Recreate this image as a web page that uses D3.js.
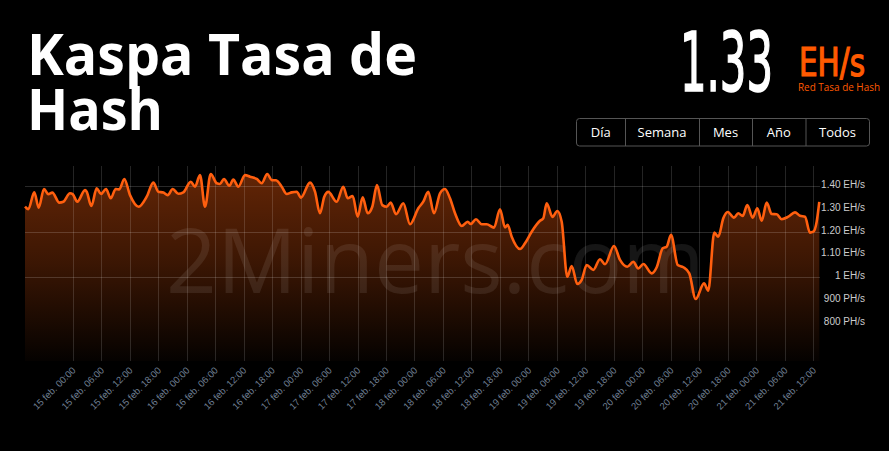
<!DOCTYPE html>
<html><head><meta charset="utf-8">
<script src="https://cdn.jsdelivr.net/npm/d3@7/dist/d3.min.js"></script>
<style>
html,body{margin:0;padding:0;background:#000;}
svg{display:block;}
</style></head>
<body>
<svg id="chart" width="889" height="451"></svg>
<script>
// ---- data (hours relative to 15 feb 00:00, hashrate in EH/s) ----
const hoursFrom15Feb = [-10.05,-9.35,-8.09,-7.16,-6.05,-5.14,-4.30,-2.82,-1.98,-0.57,0,0.97,2.59,2.95,3.92,5.06,5.96,7.02,8.01,9.06,9.82,10.87,12.07,13.90,15.59,16.98,18.03,19.09,20.01,21.07,22.25,23.30,24.86,25.76,26.82,27.87,29.07,30.34,31.03,31.87,32.99,33.83,34.89,36.30,37.35,38.76,39.82,40.99,41.92,42.83,44.03,45.08,46.14,47.19,48.09,49.99,51.04,52.09,53.00,53.84,55.61,57.00,57.93,58.98,60.04,61.09,62.14,63.11,64.10,65.22,66.15,66.99,68.11,69.65,71.06,72.81,73.86,74.91,76.11,77.38,78.43,79.48,80.54,81.95,83.21,83.84,84.96,86.16,87.21,88.75,90.02,91.07,91.64,92.48,94.23,95.28,96.69,98.44,99.14,99.85,101.08,102.09,103.01,104.19,105.12,106.30,107.23,108.28,109.67,111.08,112.14,114.03,115.30,116.83,118.10,119.15,120.21,121.97,123.03,124.29,125.13,126.04,127.45,128.63,129.89,131.24,132.99,133.89,135.16,136.00,137.06,137.98,139.31,140.21,141.14,142.11,143.25,144.22,145.14,146.20,147.25,148.30,149.36,150.75,152.16,153.22,154.27,155.32,156.02,156.73,157.28];
const hashrateEH = [1.309,1.298,1.372,1.305,1.387,1.364,1.371,1.327,1.331,1.368,1.364,1.331,1.382,1.375,1.312,1.390,1.365,1.387,1.346,1.387,1.385,1.431,1.360,1.309,1.353,1.415,1.375,1.371,1.360,1.387,1.366,1.372,1.419,1.397,1.448,1.309,1.453,1.412,1.409,1.431,1.401,1.428,1.397,1.448,1.441,1.431,1.412,1.453,1.426,1.425,1.397,1.365,1.372,1.375,1.349,1.415,1.375,1.280,1.353,1.374,1.331,1.397,1.346,1.356,1.265,1.350,1.280,1.309,1.404,1.316,1.309,1.327,1.276,1.324,1.232,1.302,1.331,1.375,1.280,1.368,1.387,1.346,1.280,1.224,1.243,1.233,1.254,1.232,1.232,1.217,1.298,1.218,1.229,1.177,1.123,1.148,1.199,1.247,1.258,1.324,1.264,1.290,1.243,1.001,1.048,0.969,0.987,1.053,1.031,1.078,1.056,1.136,1.075,1.045,1.067,1.038,1.057,1.016,1.043,1.126,1.133,1.185,1.053,1.043,1.016,0.903,0.972,0.940,1.195,1.177,1.258,1.286,1.261,1.280,1.268,1.316,1.261,1.302,1.247,1.327,1.277,1.276,1.254,1.265,1.284,1.269,1.265,1.195,1.199,1.243,1.330];

const tickHours = [0,6,12,18,24,30,36,42,48,54,60,66,72,78,84,90,96,102,108,114,120,126,132,138,144,150,156];
const tickLabels = ["15 feb. 00:00","15 feb. 06:00","15 feb. 12:00","15 feb. 18:00","16 feb. 00:00","16 feb. 06:00","16 feb. 12:00","16 feb. 18:00","17 feb. 00:00","17 feb. 06:00","17 feb. 12:00","17 feb. 18:00","18 feb. 00:00","18 feb. 06:00","18 feb. 12:00","18 feb. 18:00","19 feb. 00:00","19 feb. 06:00","19 feb. 12:00","19 feb. 18:00","20 feb. 00:00","20 feb. 06:00","20 feb. 12:00","20 feb. 18:00","21 feb. 00:00","21 feb. 06:00","21 feb. 12:00"];

const yTickValues = [0.8,0.9,1.0,1.1,1.2,1.3,1.4];
const yTickLabels = ["800 PH/s","900 PH/s","1 EH/s","1.10 EH/s","1.20 EH/s","1.30 EH/s","1.40 EH/s"];
const yGridValues = [1.0,1.2,1.4];

const titleLines = ["Kaspa Tasa de","Hash"];
const currentValue = "1.33";
const currentUnit = "EH/s";
const currentCaption = "Red Tasa de Hash";
const rangeButtons = ["Día","Semana","Mes","Año","Todos"];
const watermark = "2Miners.com";

// ---- layout ----
const HOUR = 3600*1000;
const base = Date.UTC(2025,1,15,0,0);
const toDate = h => new Date(base + h*HOUR);
const plot = {left:25, right:820, top:166, bottom:361};

const svg = d3.select("#chart");
svg.append("rect").attr("width",889).attr("height",451).attr("fill","#000");

const x = d3.scaleUtc().domain([toDate(-10.05), toDate(157.43)]).range([plot.left, plot.right]);
const y = d3.scaleLinear().domain([0.6308, 1.4879]).range([plot.bottom, plot.top]);

const data = hoursFrom15Feb.map((h,i)=>({t:toDate(h), v:hashrateEH[i]}));

// gradient
const defs = svg.append("defs");
const grad = defs.append("linearGradient").attr("id","fillGrad")
  .attr("gradientUnits","userSpaceOnUse").attr("x1",0).attr("x2",0)
  .attr("y1",plot.top).attr("y2",plot.bottom);
grad.append("stop").attr("offset","0%").attr("stop-color","#ff5f0f").attr("stop-opacity",0.40);
grad.append("stop").attr("offset","50%").attr("stop-color","#ff5f0f").attr("stop-opacity",0.23);
grad.append("stop").attr("offset","100%").attr("stop-color","#ff5f0f").attr("stop-opacity",0.02);

// area
const area = d3.area().x(d=>x(d.t)).y0(plot.bottom).y1(d=>y(d.v)).curve(d3.curveMonotoneX);
svg.append("path").datum(data).attr("d",area).attr("fill","url(#fillGrad)");

// watermark
svg.append("text").attr("x",166).attr("y",293).text(watermark)
  .attr("font-family","'Open Sans', sans-serif").attr("font-size",89)
  .attr("fill","#ffffff").attr("fill-opacity",0.085);

// vertical grid
svg.append("g").selectAll("line").data(tickHours).join("line")
  .attr("x1",d=>Math.round(x(toDate(d)))+0.5).attr("x2",d=>Math.round(x(toDate(d)))+0.5)
  .attr("y1",plot.top).attr("y2",plot.bottom)
  .attr("stroke","#ffffff").attr("stroke-opacity",0.14).attr("stroke-width",1);
// horizontal grid
svg.append("g").selectAll("line").data(yGridValues).join("line")
  .attr("x1",plot.left).attr("x2",plot.right)
  .attr("y1",d=>Math.round(y(d))+0.5).attr("y2",d=>Math.round(y(d))+0.5)
  .attr("stroke","#ffffff").attr("stroke-opacity",0.16).attr("stroke-width",1);

// line
const line = d3.line().x(d=>x(d.t)).y(d=>y(d.v)).curve(d3.curveMonotoneX);
svg.append("path").datum(data).attr("d",line).attr("fill","none")
  .attr("stroke","#ff5f0f").attr("stroke-width",2.6).attr("stroke-linejoin","round");

// x axis
const xAxis = d3.axisBottom(x).tickValues(tickHours.map(toDate))
  .tickFormat((d,i)=>tickLabels[i]).tickSize(0).tickPadding(0);
const gx = svg.append("g").attr("transform",`translate(0,${plot.bottom})`).call(xAxis);
gx.select(".domain").remove();
gx.selectAll("text")
  .attr("font-family","'Liberation Sans', Arial, sans-serif").attr("font-size",9.5)
  .attr("fill","#6f7f92").attr("text-anchor","end")
  .attr("dy",0).attr("y",0)
  .attr("transform","translate(3,10) rotate(-45)");

// y axis
const yAxis = d3.axisRight(y).tickValues(yTickValues)
  .tickFormat((d,i)=>yTickLabels[i]).tickSize(0).tickPadding(0);
const gy = svg.append("g").attr("transform",`translate(865,-1.5)`).call(yAxis);
gy.select(".domain").remove();
gy.selectAll("text").attr("text-anchor","end")
  .attr("font-family","'Liberation Sans', Arial, sans-serif").attr("font-size",10)
  .attr("fill","#cccccc");

// title
svg.append("g").selectAll("text").data(titleLines).join("text")
  .attr("x",27).attr("y",(d,i)=>75+i*55).text(d=>d)
  .attr("font-family","'Open Sans', sans-serif").attr("font-weight",700)
  .attr("font-size",58).attr("fill","#ffffff")
  .attr("textLength",(d,i)=>i===0?390:136).attr("lengthAdjust","spacingAndGlyphs");

// current value
svg.append("text").attr("x",680).attr("y",91).text(currentValue)
  .attr("font-family","'DejaVu Sans Condensed','DejaVu Sans', sans-serif")
  .attr("font-size",82).attr("fill","#ffffff")
  .attr("stroke","#ffffff").attr("stroke-width",1.6)
  .attr("textLength",93).attr("lengthAdjust","spacingAndGlyphs");
svg.append("text").attr("x",799).attr("y",76).text(currentUnit)
  .attr("font-family","'DejaVu Sans Condensed','DejaVu Sans', sans-serif")
  .attr("font-size",39).attr("fill","#ff5a00")
  .attr("stroke","#ff5a00").attr("stroke-width",1.2)
  .attr("textLength",66).attr("lengthAdjust","spacingAndGlyphs");
svg.append("text").attr("x",798).attr("y",91).text(currentCaption)
  .attr("font-family","'Open Sans', sans-serif").attr("font-size",10).attr("fill","#ff5a00")
  .attr("textLength",82).attr("lengthAdjust","spacingAndGlyphs");

// range buttons
const btnEdges = [576.5,625,699,752,805.5,869.5];
const gb = svg.append("g");
gb.append("rect").attr("x",576.5).attr("y",118.5).attr("width",293).attr("height",27.5)
  .attr("rx",3).attr("fill","none").attr("stroke","#555555");
gb.selectAll("line").data(btnEdges.slice(1,-1)).join("line")
  .attr("x1",d=>d+0.5).attr("x2",d=>d+0.5).attr("y1",118.5).attr("y2",146)
  .attr("stroke","#555555");
gb.selectAll("text").data(rangeButtons).join("text")
  .attr("x",(d,i)=>(btnEdges[i]+btnEdges[i+1])/2).attr("y",137)
  .attr("text-anchor","middle").text(d=>d)
  .attr("font-family","'Open Sans', sans-serif").attr("font-size",13).attr("fill","#ffffff");
</script>
</body></html>
